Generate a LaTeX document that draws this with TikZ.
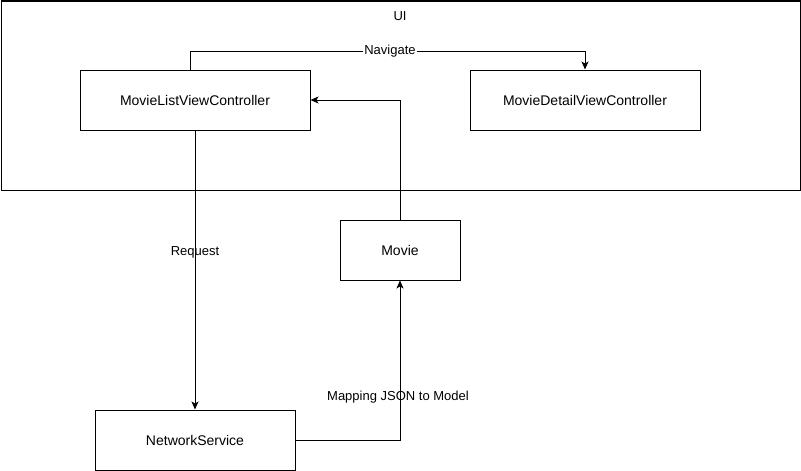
\documentclass[tikz,border=0pt]{standalone}
\usepackage{fontspec}
\setmainfont{Liberation Sans}
\usetikzlibrary{arrows.meta}
\begin{document}
\begin{tikzpicture}[x=1pt,y=-1pt,
  box/.style={draw,line width=1pt,minimum height=60pt,inner sep=0pt,font=\fontsize{14}{16}\selectfont},
  conn/.style={line width=1pt,-{Stealth[length=8pt,width=7pt,inset=2pt]}},
  lbl/.style={font=\fontsize{13}{15}\selectfont,inner sep=1pt}]
\useasboundingbox (0,0) rectangle (801,471);
\fill[white] (0,0) rectangle (801,471);
\node[draw,line width=1pt,minimum width=799pt,minimum height=189pt,inner sep=0pt,anchor=north west] (ui) at (0.5,0.5) {};
\node[lbl] (uil) at (400,16) {UI};
\node[box,minimum width=230pt] (mlvc) at (195,100) {MovieListViewController};
\node[box,minimum width=230pt] (mdvc) at (585,100) {MovieDetailViewController};
\node[box,minimum width=120pt] (movie) at (400,250) {Movie};
\node[box,minimum width=200pt] (ns) at (195,440) {NetworkService};
\coordinate (nav1) at (190,51);
\coordinate (nav2) at (585,51);
\draw[conn] (mlvc.north -| nav1) -- (nav1) -- (nav2) -- (mdvc.north);
\node[lbl,fill=white] (navl) at (390,51) {Navigate};
\coordinate (mv1) at (400,100);
\draw[conn] (movie.north) -- (mv1) -- (mlvc.east);
\draw[conn] (mlvc.south) -- (ns.north);
\node[lbl] (reql) at (195,252) {Request};
\coordinate (map1) at (400,440);
\draw[conn] (ns.east) -- (map1) -- (movie.south);
\node[lbl] (mapl) at (398,397) {Mapping JSON to Model};
\end{tikzpicture}
\end{document}
